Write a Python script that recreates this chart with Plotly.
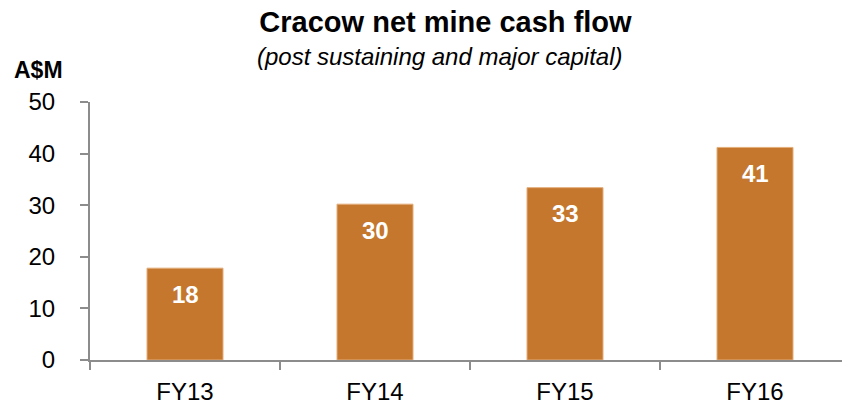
import plotly.graph_objects as go

categories = ["FY13", "FY14", "FY15", "FY16"]
values = [17.8, 30.2, 33.4, 41.2]
y_ticks = [0, 10, 20, 30, 40, 50]

title_text = "Cracow net mine cash flow"
subtitle_text = "(post sustaining and major capital)"
unit_text = "A$M"

BAR = "#C4772D"
AXIS = "#8C8C8C"
FONT = "Liberation Sans, Arial, sans-serif"

fig = go.Figure()
fig.add_trace(go.Bar(
    x=categories, y=values,
    marker=dict(color=BAR, line=dict(color="#E3AE7C", width=1)),
    hoverinfo="skip",
))

for c, v in zip(categories, values):
    fig.add_annotation(
        x=c, y=v, xref="x", yref="y",
        text="<b>%d</b>" % round(v),
        showarrow=False, yanchor="middle", yshift=-26,
        font=dict(family=FONT, size=24, color="white"),
    )

fig.add_annotation(
    xref="paper", yref="paper", x=0.4605, y=1.178,
    xanchor="center", yanchor="middle",
    text="<i>%s</i>" % subtitle_text, showarrow=False,
    font=dict(family=FONT, size=24, color="black"),
)
fig.add_annotation(
    xref="paper", yref="paper", x=-0.0678, y=1.124,
    xanchor="center", yanchor="middle",
    text="<b>%s</b>" % unit_text, showarrow=False,
    font=dict(family=FONT, size=23, color="black"),
)

fig.update_layout(
    width=842, height=395,
    margin=dict(l=82, r=0, t=94, b=43, autoexpand=False),
    paper_bgcolor="white", plot_bgcolor="white",
    showlegend=False,
    bargap=0.6,
    title=dict(
        text="<b>%s</b>" % title_text,
        x=0.5196, xanchor="center", xref="container",
        y=0.9646, yanchor="middle", yref="container",
        font=dict(family=FONT, size=29, color="black"),
        automargin=False,
    ),
    xaxis=dict(
        showline=True, linecolor=AXIS, linewidth=2,
        ticks="outside", ticklen=8, tickwidth=1.5, tickcolor=AXIS,
        tickson="boundaries", showgrid=False, zeroline=False,
        tickfont=dict(family=FONT, size=24, color="black"),
        ticklabelstandoff=9, automargin=False,
    ),
    yaxis=dict(
        range=[0, 50], tickvals=y_ticks,
        showline=True, linecolor=AXIS, linewidth=2,
        ticks="outside", ticklen=8, tickwidth=1.5, tickcolor=AXIS,
        showgrid=False, zeroline=False,
        tickfont=dict(family=FONT, size=24, color="black"),
        ticklabelstandoff=20, automargin=False,
    ),
)

fig.write_html("out.html")
